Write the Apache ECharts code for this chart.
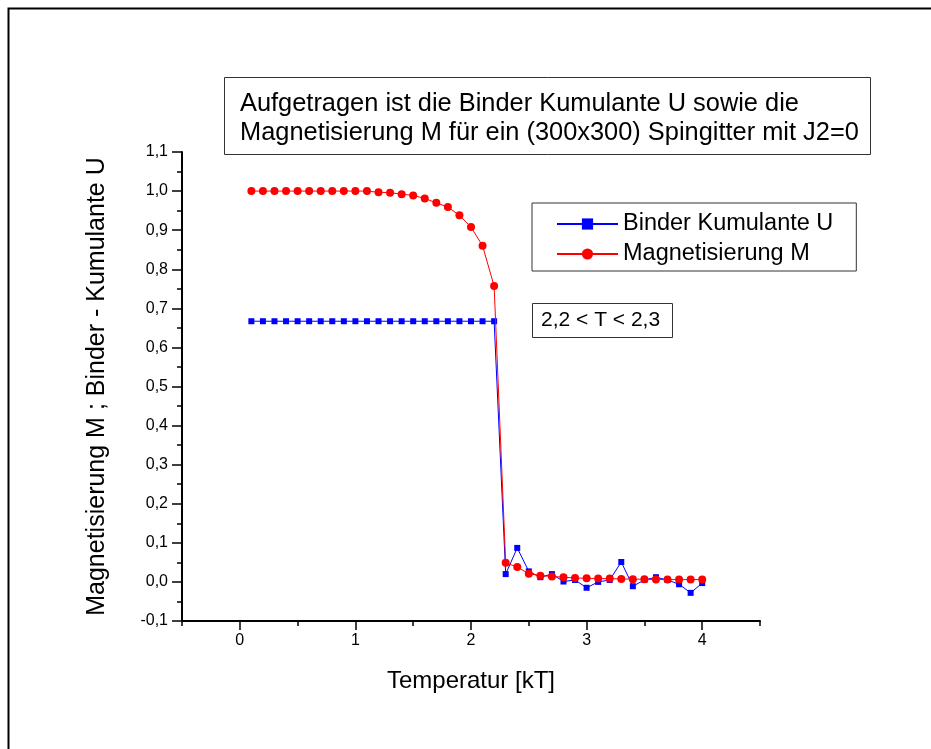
<!DOCTYPE html>
<html>
<head>
<meta charset="utf-8">
<script src="https://cdn.jsdelivr.net/npm/echarts@6/dist/echarts.min.js"></script>
<style>
html,body{margin:0;padding:0;background:#fff;}
#chart{width:931px;height:749px;}
</style>
</head>
<body>
<div id="chart"></div>
<script>
// Temperatures (kT)
var temps = [0.1,0.2,0.3,0.4,0.5,0.6,0.7,0.8,0.9,1.0,
             1.1,1.2,1.3,1.4,1.5,1.6,1.7,1.8,1.9,2.0,
             2.1,2.2,2.3,2.4,2.5,2.6,2.7,2.8,2.9,3.0,
             3.1,3.2,3.3,3.4,3.5,3.6,3.7,3.8,3.9,4.0];
// Binder Kumulante U
var binderU = [0.667,0.667,0.667,0.667,0.667,0.667,0.667,0.667,0.667,0.667,
               0.667,0.667,0.667,0.667,0.667,0.667,0.667,0.667,0.667,0.667,
               0.667,0.667,0.020,0.087,0.027,0.012,0.020,0.001,0.005,-0.015,
               0.000,0.005,0.051,-0.011,0.005,0.012,0.005,-0.006,-0.028,-0.003];
// Magnetisierung M
var magnetM = [1.000,1.000,1.000,1.000,1.000,1.000,1.000,1.000,1.000,1.000,
               1.000,0.997,0.996,0.992,0.989,0.981,0.970,0.959,0.938,0.908,
               0.860,0.757,0.049,0.038,0.021,0.016,0.014,0.012,0.010,0.0095,
               0.0085,0.0085,0.0077,0.007,0.007,0.006,0.006,0.006,0.006,0.006];
// Tick values
var xMajorTicks = [0,1,2,3,4];
var xMinorTicks = [-0.5,0.5,1.5,2.5,3.5,4.5];

var seriesNames = ['Binder Kumulante U','Magnetisierung M'];
var titleText = 'Aufgetragen ist die Binder Kumulante U sowie die\nMagnetisierung M f\u00fcr ein (300x300) Spingitter mit J2=0';
var noteText = '2,2 < T < 2,3';
var xName = 'Temperatur [kT]';
var yName = 'Magnetisierung M ; Binder - Kumulante U';

var FONT = '"Liberation Sans", Arial, sans-serif';

function pairs(xs, ys){ return xs.map(function(x,i){ return [x, ys[i]]; }); }

var chart = echarts.init(document.getElementById('chart'), null, {renderer:'canvas'});
chart.setOption({
  animation: false,
  backgroundColor: '#fff',
  graphic: [{
    type: 'rect', left: 6, top: 6, silent: true,
    shape: {width: 1000, height: 1000},
    style: {fill: 'none', stroke: '#000', lineWidth: 2}
  }],
  title: [{
    text: titleText,
    left: 224, top: 77,
    padding: [12, 12, 8, 16],
    borderWidth: 1, borderColor: '#333',
    textStyle: {fontFamily: FONT, fontSize: 25.4, fontWeight: 'normal', lineHeight: 29, color: '#000'}
  }, {
    text: noteText,
    left: 532, top: 303,
    padding: [6, 13, 6, 9],
    borderWidth: 1, borderColor: '#333',
    textStyle: {fontFamily: FONT, fontSize: 21, fontWeight: 'normal', lineHeight: 23, color: '#000'}
  }],
  legend: {
    data: seriesNames,
    orient: 'vertical',
    left: 532, top: 203,
    itemWidth: 61, itemHeight: 14, itemGap: 6,
    padding: [9, 23, 5, 24],
    borderWidth: 1, borderColor: '#333',
    textStyle: {fontFamily: FONT, fontSize: 23.5, color: '#000', lineHeight: 20}
  },
  grid: {left: 182, right: 171, top: 152, bottom: 128, containLabel: false},
  xAxis: [{
    type: 'value', min: -0.5, max: 4.5, position: 'bottom',
    name: xName, nameLocation: 'middle', nameGap: 48,
    nameTextStyle: {fontFamily: FONT, fontSize: 24, color: '#000'},
    splitLine: {show: false},
    axisLine: {show: true, onZero: false, lineStyle: {color: '#000', width: 2}},
    axisTick: {show: true, length: 9, customValues: xMajorTicks, lineStyle: {color: '#000', width: 1.5}},
    axisLabel: {customValues: xMajorTicks, margin: 12, fontFamily: FONT, fontSize: 16, color: '#000',
      formatter: function(v){ return String(Math.round(v)); }}
  }, {
    type: 'value', min: -0.5, max: 4.5, position: 'bottom',
    splitLine: {show: false},
    axisLine: {show: false, onZero: false},
    axisTick: {show: true, length: 5, customValues: xMinorTicks, lineStyle: {color: '#000', width: 1.5}},
    axisLabel: {show: false}
  }],
  yAxis: {
    type: 'value', min: -0.1, max: 1.1, interval: 0.1,
    name: yName, nameLocation: 'middle', nameGap: 72, nameRotate: 90,
    nameTextStyle: {fontFamily: FONT, fontSize: 25, color: '#000'},
    splitLine: {show: false},
    axisLine: {show: true, onZero: false, lineStyle: {color: '#000', width: 2}},
    axisTick: {show: true, length: 10, lineStyle: {color: '#000', width: 1.5}},
    minorTick: {show: true, splitNumber: 2, length: 5, lineStyle: {color: '#000', width: 1.5}},
    axisLabel: {margin: 14, fontFamily: FONT, fontSize: 16, color: '#000',
      formatter: function(v){ var s = v.toFixed(1); if (s === '-0.0') s = '0.0'; return s.replace('.', ','); }}
  },
  series: [{
    name: seriesNames[0], type: 'line',
    data: pairs(temps, binderU),
    symbol: 'rect', symbolSize: 6,
    itemStyle: {color: '#0000ff'},
    lineStyle: {color: '#0000ff', width: 1},
    z: 2
  }, {
    name: seriesNames[1], type: 'line',
    data: pairs(temps, magnetM),
    symbol: 'circle', symbolSize: 8,
    itemStyle: {color: '#ff0000'},
    lineStyle: {color: '#ff0000', width: 1},
    z: 3
  }]
});
</script>
</body>
</html>
